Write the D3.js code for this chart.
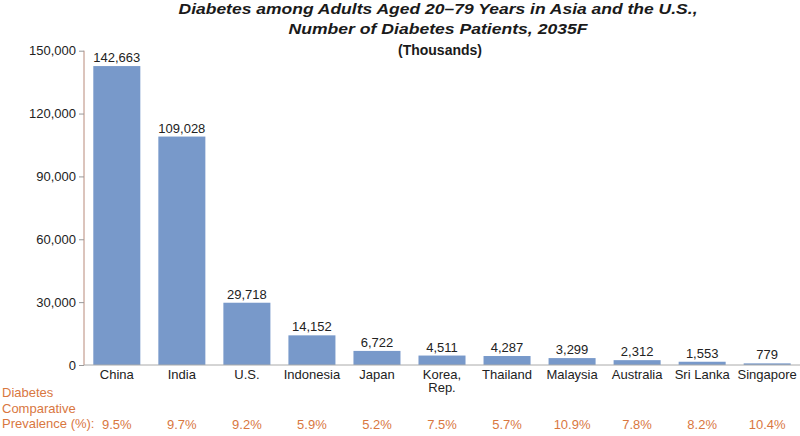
<!DOCTYPE html>
<html>
<head>
<meta charset="utf-8">
<script src="https://cdn.jsdelivr.net/npm/d3@7"></script>
<style>
  html, body { margin: 0; padding: 0; background: #fff; }
  svg { display: block; font-family: "Liberation Sans", Arial, sans-serif; }
</style>
</head>
<body>
<svg id="chart" width="800" height="436"></svg>
<script>
const categories = ["China", "India", "U.S.", "Indonesia", "Japan", "Korea,\nRep.", "Thailand", "Malaysia", "Australia", "Sri Lanka", "Singapore"];
const patients = [142663, 109028, 29718, 14152, 6722, 4511, 4287, 3299, 2312, 1553, 779];
const prevalence = ["9.5%", "9.7%", "9.2%", "5.9%", "5.2%", "7.5%", "5.7%", "10.9%", "7.8%", "8.2%", "10.4%"];
const yTicks = [0, 30000, 60000, 90000, 120000, 150000];
const titleLines = ["Diabetes among Adults Aged 20\u201379 Years in Asia and the U.S.,", "Number of Diabetes Patients, 2035F"];
const subtitle = "(Thousands)";
const prevalenceLabel = ["Diabetes", "Comparative", "Prevalence (%):"];

const svg = d3.select("#chart");
const barColor = "#7899ca";
const orange = "#d9773f";
const textColor = "#222";

const x = d3.scaleBand().domain(categories).range([84, 800]).paddingInner(0.277).paddingOuter(0.143);
const y = d3.scaleLinear().domain([0, 150000]).range([365, 50.7]);

// Title
const titleWidths = [519, 299];
svg.append("g").selectAll("text").data(titleLines).join("text")
  .attr("x", 438).attr("y", (d, i) => 13.5 + i * 20.2)
  .attr("text-anchor", "middle")
  .attr("font-size", 15.5).attr("font-weight", "bold").attr("font-style", "italic")
  .attr("textLength", (d, i) => titleWidths[i]).attr("lengthAdjust", "spacingAndGlyphs")
  .attr("fill", "#1a1a1a").text(d => d);
svg.append("text").attr("x", 440).attr("y", 55).attr("text-anchor", "middle")
  .attr("font-size", 14).attr("font-weight", "bold").attr("fill", "#1a1a1a").text(subtitle);

// Bars
svg.append("g").selectAll("rect").data(patients).join("rect")
  .attr("x", (d, i) => x(categories[i]))
  .attr("y", d => y(d))
  .attr("width", x.bandwidth())
  .attr("height", d => y(0) - y(d))
  .attr("fill", barColor);

// Value labels
svg.append("g").selectAll("text").data(patients).join("text")
  .attr("x", (d, i) => x(categories[i]) + x.bandwidth() / 2)
  .attr("y", d => y(d) - 4)
  .attr("text-anchor", "middle").attr("font-size", 13).attr("fill", textColor)
  .text(d => d3.format(",")(d));

// Y axis
const yAxis = svg.append("g").attr("transform", "translate(84,0)")
  .call(d3.axisLeft(y).tickValues(yTicks).tickSize(5).tickPadding(3).tickFormat(d3.format(",")));
yAxis.select(".domain").attr("stroke", "#b88a7a").attr("d", `M0,${y(150000)}V${y(0)}`);
yAxis.selectAll(".tick line").attr("stroke", "#999");
yAxis.selectAll(".tick text").attr("font-size", 13).attr("fill", textColor).attr("font-family", null);

// X axis baseline
const xAxis = svg.append("g").attr("transform", `translate(0,${y(0)})`)
  .call(d3.axisBottom(x).tickSize(0).tickPadding(5));
xAxis.select(".domain").attr("stroke", "#aaa").attr("d", "M84,0H800");
xAxis.selectAll(".tick text").attr("font-size", 13).attr("fill", textColor).attr("font-family", null)
  .each(function(d) {
    const t = d3.select(this);
    const parts = d.split("\n");
    t.text(null);
    parts.forEach((p, i) => t.append("tspan").attr("x", 0).attr("dy", i === 0 ? "0.71em" : "0.96em").text(p));
  });

// Prevalence row
svg.append("g").selectAll("text").data(prevalenceLabel).join("text")
  .attr("x", 2).attr("y", (d, i) => 397 + i * 15.7)
  .attr("font-size", 13).attr("fill", orange).text(d => d);
svg.append("g").selectAll("text").data(prevalence).join("text")
  .attr("x", (d, i) => x(categories[i]) + x.bandwidth() / 2)
  .attr("y", 428.5)
  .attr("text-anchor", "middle").attr("font-size", 13).attr("fill", orange)
  .text(d => d);
</script>
</body>
</html>
